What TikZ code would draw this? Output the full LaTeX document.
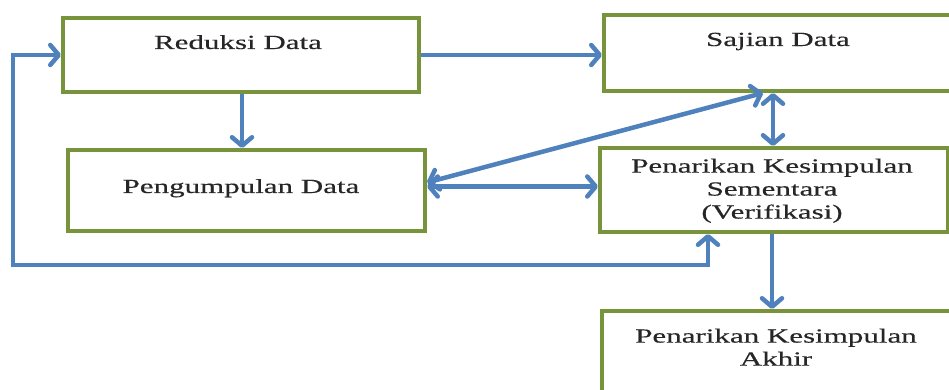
\documentclass[tikz,border=0pt]{standalone}
\usepackage{fontspec}
\setmainfont{Liberation Serif}[FakeStretch=1.55, FakeBold=0.4]
\usetikzlibrary{arrows.meta}
\definecolor{boxgreen}{HTML}{77933C}
\definecolor{flowblue}{HTML}{4F81BD}
\tikzset{
  stage/.style={draw=boxgreen, line width=4pt, fill=white, rectangle,
    inner sep=0pt, anchor=north west},
  label/.style={font=\fontsize{20pt}{23pt}\selectfont, inner sep=0pt,
    align=center, text=black!85},
  barb/.tip={Straight Barb[length=8.5pt,width=20pt,round]},
  flow/.style={draw=flowblue, line width=4.5pt, arrows={-barb}},
  twoway/.style={flow, arrows={barb-barb}}
}
\begin{document}
\begin{tikzpicture}[x=1pt,y=-1pt]
  \useasboundingbox (0,0) rectangle (949,390);
  \clip (0,0) rectangle (949,390);
  \fill[white] (0,0) rectangle (949,390);

  % stage boxes
  \node[stage, minimum width=356pt, minimum height=74pt] (red) at (61,16) {};
  \node[stage, minimum width=357pt, minimum height=81pt] (pen) at (66,148) {};
  \node[stage, minimum width=350pt, minimum height=76pt] (saj) at (602,13) {};
  \node[stage, minimum width=348pt, minimum height=84pt] (sem) at (598,146) {};
  \node[stage, minimum width=352pt, minimum height=95pt] (akh) at (600,309) {};

  % box captions
  \node[label, anchor=base] (redT) at (238,49) {Reduksi Data};
  \node[label, anchor=base] (sajT) at (778,46) {Sajian Data};
  \node[label, anchor=base] (penT) at (241,193) {Pengumpulan Data};
  \node[label, anchor=north] (semT) at (772,158.5) {Penarikan Kesimpulan\\Sementara\\(Verifikasi)};
  \node[label, anchor=north] (akhT) at (776,328.5) {Penarikan Kesimpulan\\Akhir};

  % feedback loop corners
  \coordinate (loopL) at (13,265);
  \coordinate (loopR) at (708,265);

  % connectors
  \draw[flow] (red.east) -- (red.east -| saj.west);
  \draw[flow] ([xshift=1pt]red.south) -- ([xshift=1pt]red.south |- pen.north);
  \draw[twoway] (red.west) -| (loopL) -| (sem.south -| loopR);
  \draw[twoway] ([yshift=4pt]pen.east) -- ([yshift=4pt]pen.east -| sem.west);
  \draw[twoway] ([yshift=8pt]pen.east) -- ([xshift=-16pt]saj.south);
  \draw[twoway] ([xshift=-6pt]saj.south) -- ([xshift=-6pt]saj.south |- sem.north);
  \draw[flow] ([xshift=-2pt]sem.south) -- ([xshift=-2pt]sem.south |- akh.north);
\end{tikzpicture}
\end{document}
